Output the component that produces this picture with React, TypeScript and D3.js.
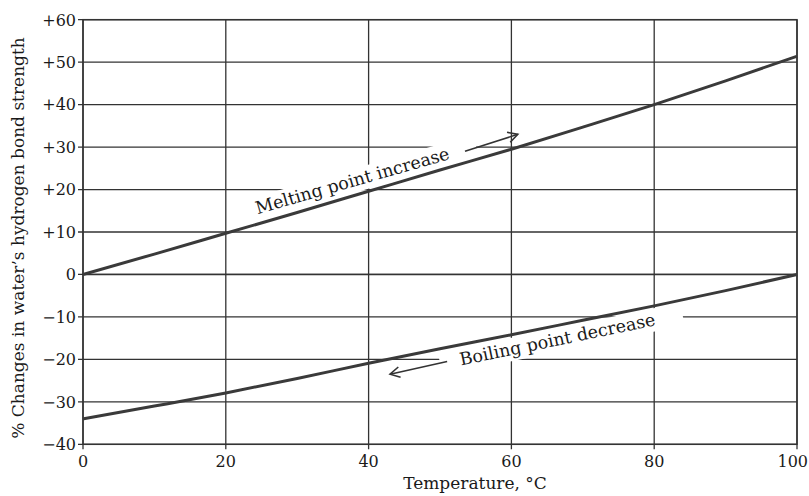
import React, { useEffect, useRef } from 'react';
import * as d3 from 'd3';

// Temperature (°C) and % change of hydrogen bond strength
const temperatures = [0, 10, 20, 30, 40, 50, 60, 70, 80, 90, 100];
const meltingChange = [0, 4.8, 9.7, 14.6, 19.6, 24.6, 29.5, 34.7, 40.0, 45.6, 51.4];
const boilingChange = [-34, -31, -27.9, -24.5, -20.9, -17.5, -14.2, -10.8, -7.4, -3.8, 0];

const xTicks = [0, 20, 40, 60, 80, 100];
const yTicks = [-40, -30, -20, -10, 0, 10, 20, 30, 40, 50, 60];

const meltingLabel = 'Melting point increase';
const boilingLabel = 'Boiling point decrease';

const W = 809;
const H = 496;
const FONT = '"DejaVu Serif", "Liberation Serif", serif';
const INK = '#333';
const TEXT = '#1a1a1a';

const App: React.FC = () => {
  const svgRef = useRef<SVGSVGElement>(null);

  useEffect(() => {
    if (!svgRef.current) return;
    const svg = d3.select(svgRef.current);
    svg.selectAll('*').remove();

    const left = 83, right = 797, top = 19.7, bottom = 444.3;

    const x = d3.scaleLinear().domain([0, 100]).range([left, right]);
    const y = d3.scaleLinear().domain([-40, 60]).range([bottom, top]);

    // grid
    const grid = svg.append('g').attr('stroke', INK).attr('stroke-width', 1.3);
    yTicks.forEach(t => {
      grid.append('line')
        .attr('x1', x(0) - 5).attr('x2', x(100))
        .attr('y1', y(t)).attr('y2', y(t));
    });
    xTicks.forEach(t => {
      grid.append('line')
        .attr('x1', x(t)).attr('x2', x(t))
        .attr('y1', y(60)).attr('y2', y(-40) + 5);
    });

    // label boxes hide the grid behind the text
    const labels = [
      { text: meltingLabel, at: [37.95, 20.7], angle: -16 },
      { text: boilingLabel, at: [66.6, -16.7], angle: -11.7 },
    ];
    labels.forEach(l => {
      const g = svg.append('g')
        .attr('transform', `translate(${x(l.at[0])},${y(l.at[1])}) rotate(${l.angle})`);
      const rect = g.append('rect').attr('fill', '#fff');
      const t = g.append('text')
        .attr('text-anchor', 'middle')
        .attr('font-family', FONT)
        .attr('font-size', 17.5)
        .attr('fill', TEXT)
        .text(l.text);
      const w = (t.node() as SVGTextElement).getComputedTextLength();
      rect.attr('x', -w / 2 - 20).attr('width', w + 48)
        .attr('y', -17).attr('height', 23);
    });

    // axis frame
    svg.append('rect')
      .attr('x', left).attr('y', top)
      .attr('width', right - left).attr('height', bottom - top)
      .attr('fill', 'none').attr('stroke', INK).attr('stroke-width', 1.5);
    svg.append('line')
      .attr('x1', left).attr('x2', right)
      .attr('y1', y(0)).attr('y2', y(0))
      .attr('stroke', INK).attr('stroke-width', 1.5);

    // curves
    const line = d3.line<number>()
      .x((_, i) => x(temperatures[i]))
      .y(d => y(d))
      .curve(d3.curveMonotoneX);
    [meltingChange, boilingChange].forEach(series => {
      svg.append('path')
        .attr('d', line(series) as string)
        .attr('fill', 'none')
        .attr('stroke', '#3a3a3a')
        .attr('stroke-width', 3);
    });

    // arrows
    const arrows = [
      { from: [53.5, 29.0], to: [60.9, 33.0] },
      { from: [51.0, -20.5], to: [43.0, -23.5] },
    ];
    arrows.forEach(a => {
      const x1 = x(a.from[0]), y1 = y(a.from[1]);
      const x2 = x(a.to[0]), y2 = y(a.to[1]);
      const ang = Math.atan2(y2 - y1, x2 - x1);
      const len = 11, spread = 0.5;
      svg.append('line')
        .attr('x1', x1).attr('y1', y1).attr('x2', x2).attr('y2', y2)
        .attr('stroke', '#333').attr('stroke-width', 1.6);
      svg.append('path')
        .attr('d', `M${x2 - len * Math.cos(ang - spread)},${y2 - len * Math.sin(ang - spread)}L${x2},${y2}L${x2 - len * Math.cos(ang + spread)},${y2 - len * Math.sin(ang + spread)}`)
        .attr('fill', 'none').attr('stroke', '#333').attr('stroke-width', 1.6);
    });

    // tick labels
    yTicks.forEach(t => {
      svg.append('text')
        .attr('x', left - 7).attr('y', y(t) + 5.8)
        .attr('text-anchor', 'end')
        .attr('font-family', FONT).attr('font-size', 16).attr('fill', TEXT)
        .text(t > 0 ? `+${t}` : t < 0 ? `\u2212${Math.abs(t)}` : '0');
    });
    xTicks.forEach(t => {
      const last = t === xTicks[xTicks.length - 1];
      svg.append('text')
        .attr('x', last ? W - 1 : x(t)).attr('y', 467)
        .attr('text-anchor', last ? 'end' : 'middle')
        .attr('font-family', FONT).attr('font-size', 16).attr('fill', TEXT)
        .text(t);
    });

    // axis titles
    svg.append('text')
      .attr('x', 475).attr('y', 489)
      .attr('text-anchor', 'middle')
      .attr('font-family', FONT).attr('font-size', 17).attr('fill', TEXT)
      .text('Temperature, \u00b0C');
    svg.append('text')
      .attr('transform', `translate(24,238) rotate(-90)`)
      .attr('text-anchor', 'middle')
      .attr('font-family', FONT).attr('font-size', 17).attr('fill', TEXT)
      .text('% Changes in water\u2019s hydrogen bond strength');
  }, []);

  return (
    <svg ref={svgRef} width={W} height={H}
      style={{ position: 'absolute', left: 0, top: 0, background: '#fff' }} />
  );
};

export default App;
